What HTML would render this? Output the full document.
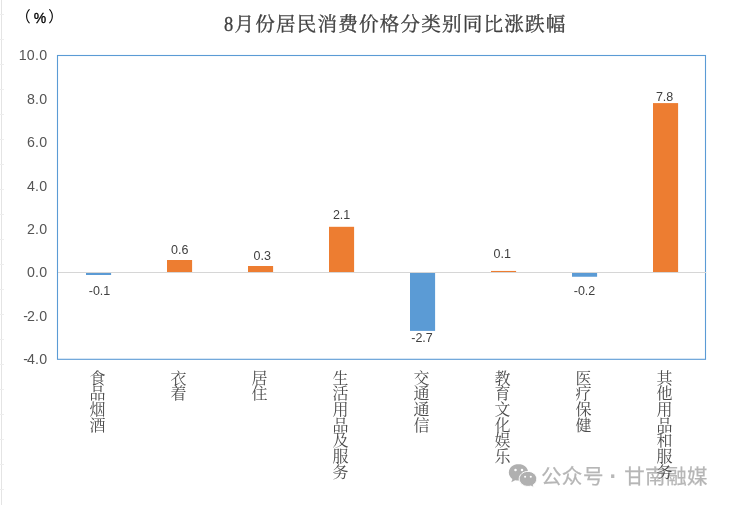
<!DOCTYPE html>
<html lang="zh-CN">
<head>
<meta charset="utf-8">
<title>8月份居民消费价格分类别同比涨跌幅</title>
<style>
html,body{margin:0;padding:0;background:#fff;}
body{width:730px;height:505px;overflow:hidden;position:relative;}
svg{position:absolute;left:0;top:0;display:block;}
.ax{font-family:"Liberation Sans",sans-serif;font-size:14.2px;letter-spacing:0.3px;fill:#555;text-anchor:end;}
.dl{font-family:"Liberation Sans",sans-serif;font-size:12.5px;fill:#404040;text-anchor:middle;}
.ti{font-family:"Liberation Serif","Noto Serif CJK SC",serif;font-size:19.6px;letter-spacing:1.15px;fill:#404040;font-weight:400;stroke:#404040;stroke-width:0.32px;}
.ca{font-family:"Liberation Serif","Noto Serif CJK SC",serif;font-size:16px;fill:#4c4c4c;text-anchor:middle;font-weight:400;}
.un{font-family:"Liberation Sans","Noto Sans CJK SC",sans-serif;font-size:14px;fill:#000;}
.wmd{font-family:"Liberation Sans","Noto Sans CJK SC",sans-serif;font-size:23px;font-weight:700;fill:#b8b8b8;text-anchor:middle;}
.wm{font-family:"Liberation Sans","Noto Sans CJK SC",sans-serif;font-size:20.5px;fill:#b6b6b6;font-weight:400;stroke:#b6b6b6;stroke-width:0.25px;}
</style>
</head>
<body>
<svg width="730" height="505" viewBox="0 0 730 505">
<rect x="0" y="0" width="730" height="505" fill="#ffffff"/>
<g stroke="#e4e4e4" stroke-width="1" shape-rendering="crispEdges">
<line x1="1.5" y1="0" x2="1.5" y2="505"/>
</g><g stroke="#eeeeee" stroke-width="1" shape-rendering="crispEdges">
<line x1="0" y1="14.5" x2="4" y2="14.5"/>
<line x1="0" y1="39.5" x2="4" y2="39.5"/>
<line x1="0" y1="64.5" x2="4" y2="64.5"/>
<line x1="0" y1="89.5" x2="4" y2="89.5"/>
<line x1="0" y1="114.5" x2="4" y2="114.5"/>
<line x1="0" y1="139.5" x2="4" y2="139.5"/>
<line x1="0" y1="164.5" x2="4" y2="164.5"/>
<line x1="0" y1="189.5" x2="4" y2="189.5"/>
<line x1="0" y1="214.5" x2="4" y2="214.5"/>
<line x1="0" y1="239.5" x2="4" y2="239.5"/>
<line x1="0" y1="264.5" x2="4" y2="264.5"/>
<line x1="0" y1="289.5" x2="4" y2="289.5"/>
<line x1="0" y1="314.5" x2="4" y2="314.5"/>
<line x1="0" y1="339.5" x2="4" y2="339.5"/>
<line x1="0" y1="364.5" x2="4" y2="364.5"/>
<line x1="0" y1="389.5" x2="4" y2="389.5"/>
<line x1="0" y1="414.5" x2="4" y2="414.5"/>
<line x1="0" y1="439.5" x2="4" y2="439.5"/>
<line x1="0" y1="464.5" x2="4" y2="464.5"/>
<line x1="0" y1="489.5" x2="4" y2="489.5"/>
</g>
<rect x="86" y="272.9" width="25.1" height="2.10" fill="#5b9bd5"/>
<rect x="167" y="260.0" width="25.1" height="12.00" fill="#ed7d31"/>
<rect x="248" y="266.0" width="25.1" height="6.00" fill="#ed7d31"/>
<rect x="329" y="226.8" width="25.1" height="45.20" fill="#ed7d31"/>
<rect x="410" y="272.9" width="25.1" height="58.00" fill="#5b9bd5"/>
<rect x="491" y="270.95" width="25.1" height="1.05" fill="#ed7d31"/>
<rect x="572" y="272.9" width="25.1" height="3.85" fill="#5b9bd5"/>
<rect x="653" y="103.1" width="25.1" height="168.90" fill="#ed7d31"/>
<rect x="57.5" y="55.5" width="648.0" height="303.80" fill="none" stroke="#5b9bd5" stroke-width="1.1"/>
<line x1="58.0" y1="272.50" x2="706.2" y2="272.50" stroke="#d6d6d6" stroke-width="1.1"/>
<text class="ax" x="47.5" y="60.40">10.0</text>
<text class="ax" x="47.5" y="103.80">8.0</text>
<text class="ax" x="47.5" y="147.20">6.0</text>
<text class="ax" x="47.5" y="190.60">4.0</text>
<text class="ax" x="47.5" y="234.00">2.0</text>
<text class="ax" x="47.5" y="277.40">0.0</text>
<text class="ax" x="47.5" y="320.80">-<tspan dx="-1.3">2.0</tspan></text>
<text class="ax" x="47.5" y="364.20">-<tspan dx="-1.3">4.0</tspan></text>
<text class="dl" x="99.5" y="295">-0.1</text>
<text class="dl" x="179.8" y="253.6">0.6</text>
<text class="dl" x="262.2" y="260.3">0.3</text>
<text class="dl" x="341.6" y="219">2.1</text>
<text class="dl" x="422" y="341.7">-2.7</text>
<text class="dl" x="502.3" y="258">0.1</text>
<text class="dl" x="584.5" y="295.3">-0.2</text>
<text class="dl" x="664.6" y="101.1">7.8</text>
<text class="ti" x="0" y="30.6" transform="translate(223.9 0) scale(0.84 1)" style="font-size:22px;letter-spacing:0">8</text>
<text class="ti" x="234.5" y="30.6">月份居民消费价格分类别同比涨跌幅</text>
<text class="un" y="22.1" x="15.5" style="font-size:15.2px">（</text>
<text class="un" y="22.7" x="0" transform="translate(33.8 0) scale(0.91 1)" style="font-size:15.4px;stroke:#000;stroke-width:0.35px">%</text>
<text class="un" y="22.1" x="48.2" style="font-size:15.2px">）</text>
<g fill="#b0b0b0">
<path d="M518.5 464.1c-5.4 0-9.7 3.75-9.7 8.4 0 2.6 1.4 4.9 3.6 6.450l-1.100 3.200 3.900-2c1.050 .3 2.150 .45 3.300 .45 5.400 0 9.700-3.600 9.700-8.100 0-4.650-4.300-8.400-9.700-8.400z"/>
<path d="M528 471.400c-4.900 0-8.800 3.400-8.800 7.500s3.900 7.500 8.800 7.500c1 0 2-.15 2.900-.4l3.200 1.700-.9-2.800c2.200-1.400 3.600-3.500 3.600-6 0-4.100-3.900-7.500-8.800-7.500z" stroke="#fff" stroke-width="1"/>
</g>
<g fill="#fff"><circle cx="515.5" cy="470" r="1.25"/><circle cx="522" cy="470" r="1.25"/><circle cx="525.1" cy="476.8" r="1.05"/><circle cx="530.8" cy="476.8" r="1.05"/></g>
<text class="wm" y="483.8" x="540.9 561.7 583">公众号</text>
<text class="wmd" y="483.8" x="613.3">·</text>
<text class="wm" y="483.8" x="624.3 645.1 666.2 687.1">甘南融媒</text>
<text class="ca" x="97.5 97.5 97.5 97.5" y="383.60 399.25 414.90 430.55">食品烟酒</text>
<text class="ca" x="178.5 178.5" y="383.60 399.25">衣着</text>
<text class="ca" x="259.5 259.5" y="383.60 399.25">居住</text>
<text class="ca" x="340.5 340.5 340.5 340.5 340.5 340.5 340.5" y="383.60 399.25 414.90 430.55 446.20 461.85 477.50">生活用品及服务</text>
<text class="ca" x="421.5 421.5 421.5 421.5" y="383.60 399.25 414.90 430.55">交通通信</text>
<text class="ca" x="502.5 502.5 502.5 502.5 502.5 502.5" y="383.60 399.25 414.90 430.55 446.20 461.85">教育文化娱乐</text>
<text class="ca" x="583.5 583.5 583.5 583.5" y="383.60 399.25 414.90 430.55">医疗保健</text>
<text class="ca" x="664.5 664.5 664.5 664.5 664.5 664.5 664.5" y="383.60 399.25 414.90 430.55 446.20 461.85 477.50">其他用品和服务</text>
</svg>
</body>
</html>
